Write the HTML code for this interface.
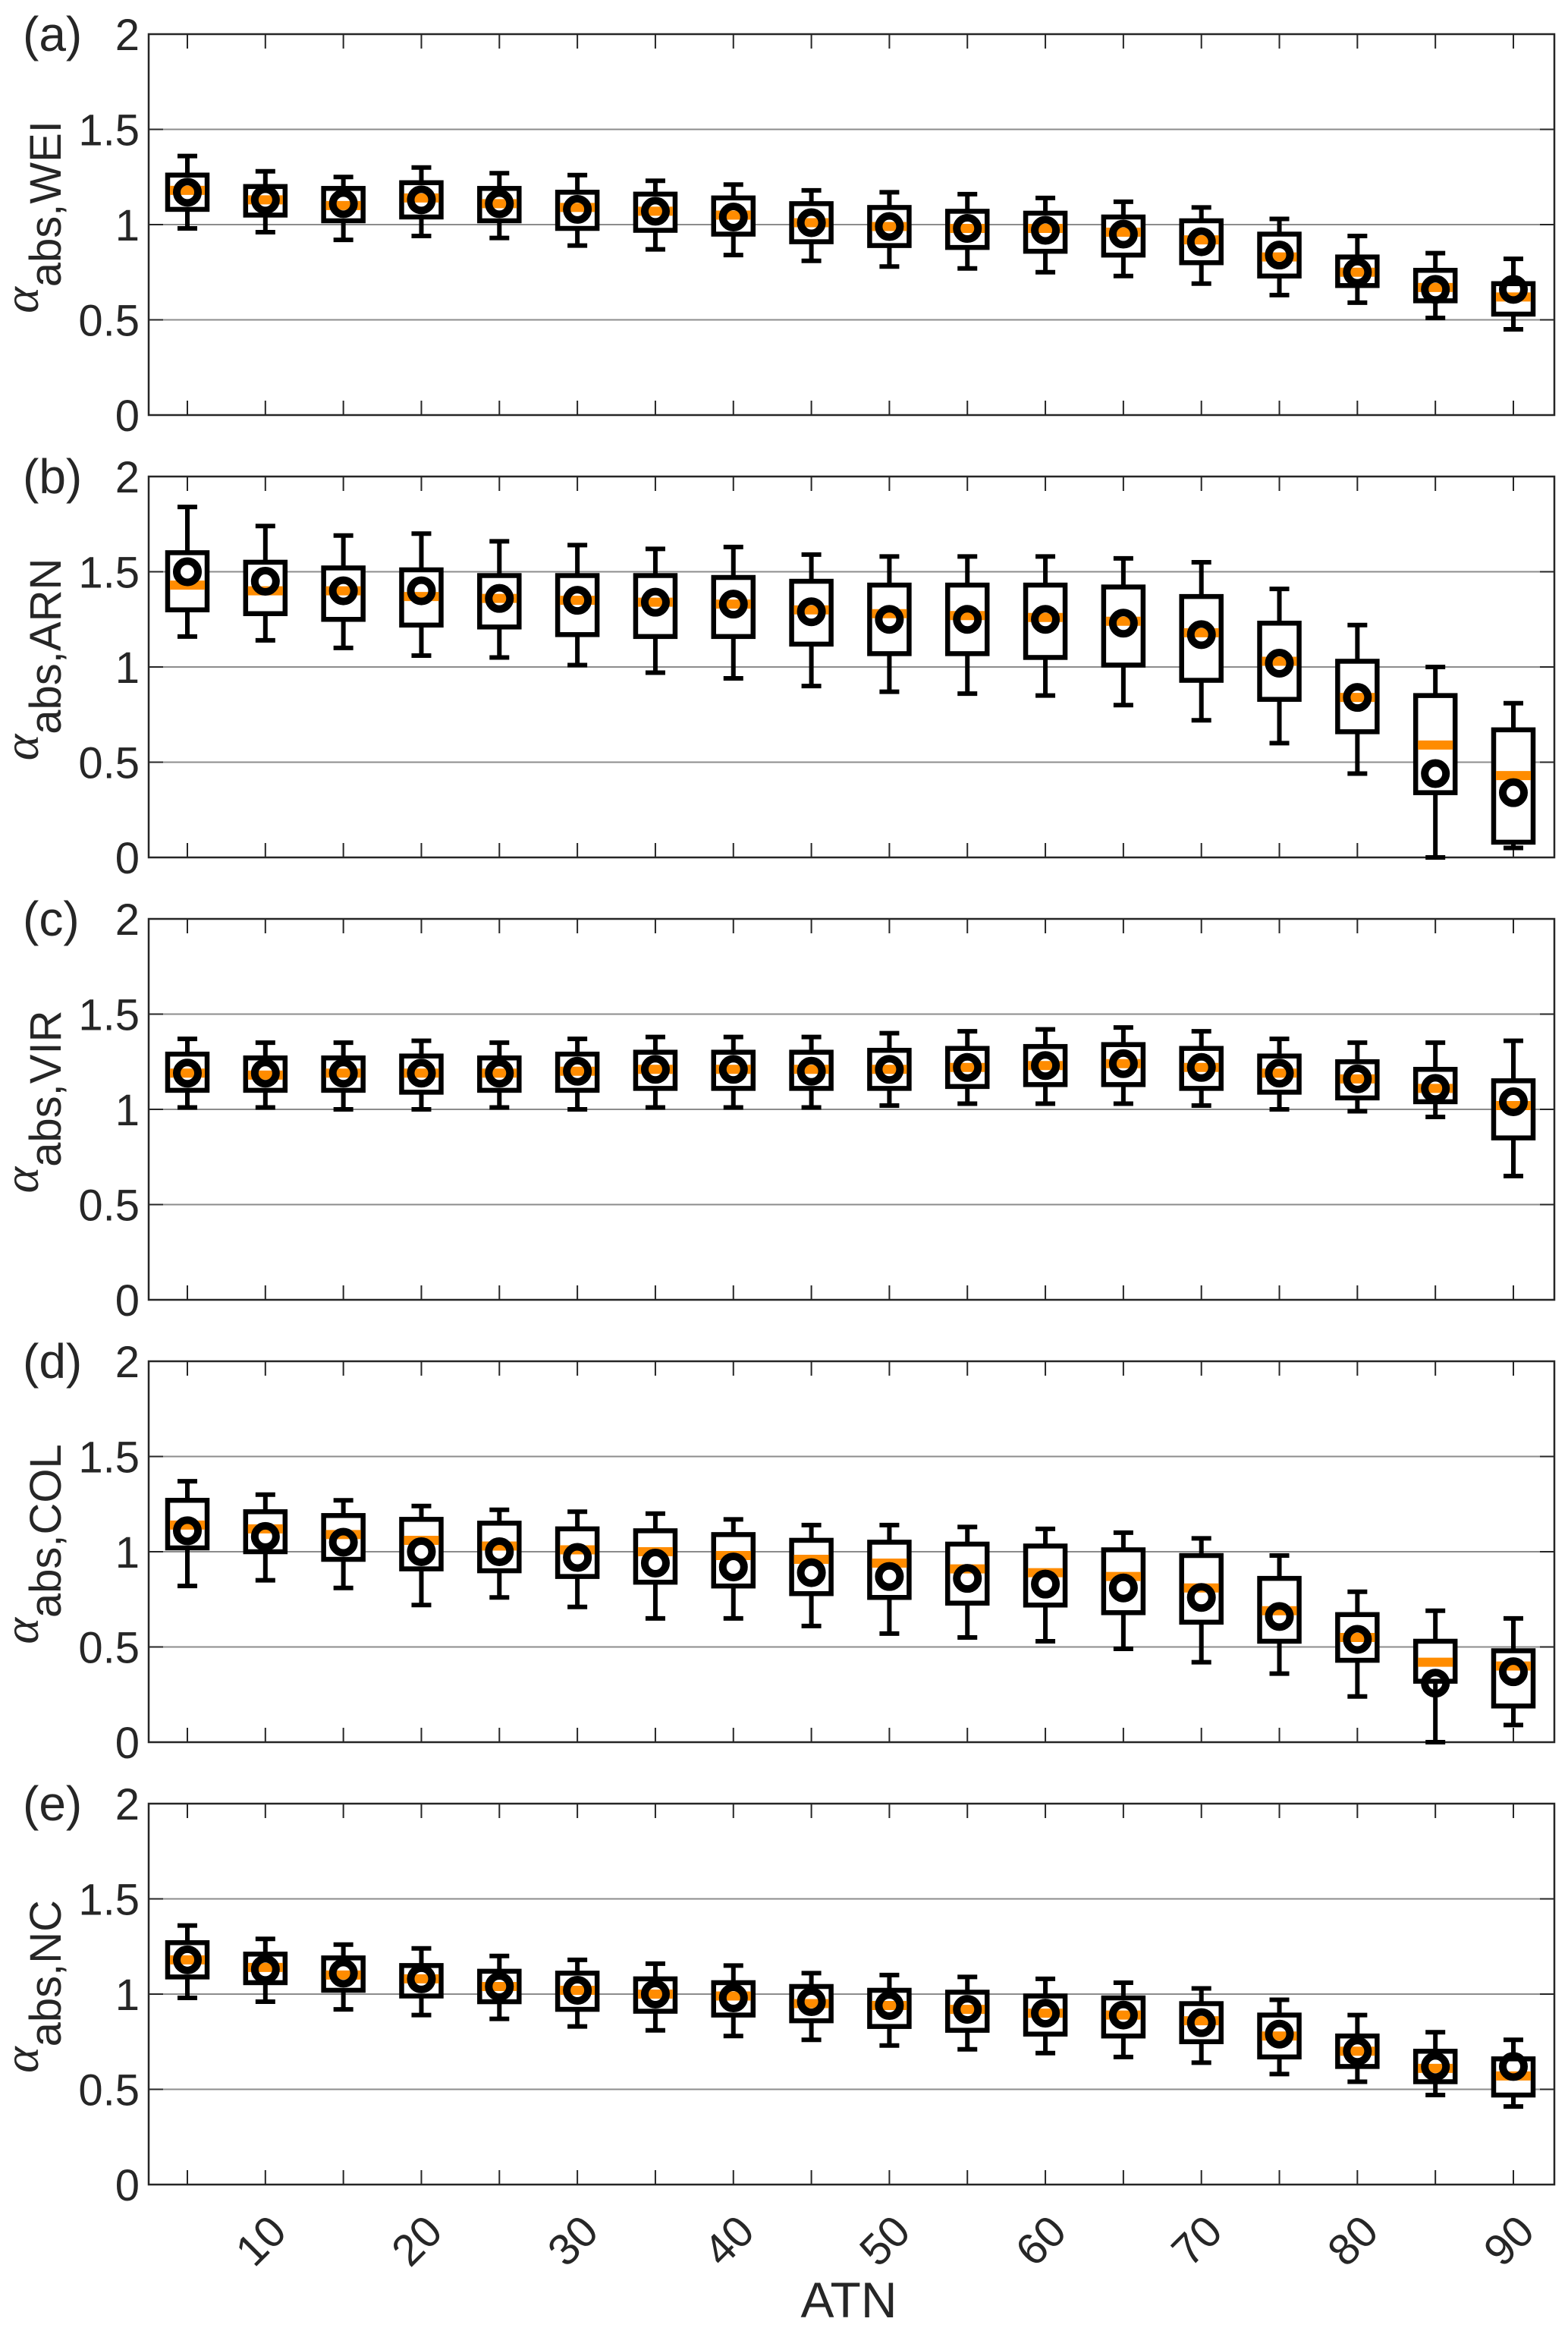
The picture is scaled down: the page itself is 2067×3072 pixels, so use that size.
<!DOCTYPE html>
<html><head><meta charset="utf-8">
<style>
html,body{margin:0;padding:0;background:#fff;}
svg{display:block;}
text{font-family:"Liberation Sans",sans-serif;fill:#262626;}
</style></head>
<body>
<svg id="chart" width="2067" height="3072" viewBox="0 0 2067 3072" xmlns="http://www.w3.org/2000/svg"></svg>
<script>
// Categories (ATN bins)
const atn = [5,10,15,20,25,30,35,40,45,50,55,60,65,70,75,80,85,90];
const xTickLabels = [10,20,30,40,50,60,70,80,90];
const yTickLabels = [0,0.5,1,1.5,2];
const panelLetters = ["(a)","(b)","(c)","(d)","(e)"];
const panelSubs = ["abs,WEI","abs,ARN","abs,VIR","abs,COL","abs,NC"];

// Each panel: whisker low, q1, median, q3, whisker high, mean
const weiLo  = [.98,.96,.92,.94,.93,.89,.87,.84,.81,.78,.77,.75,.73,.69,.63,.59,.51,.45];
const weiQ1  = [1.08,1.05,1.02,1.04,1.02,.98,.97,.95,.91,.89,.88,.86,.84,.80,.73,.68,.60,.53];
const weiMed = [1.18,1.13,1.10,1.14,1.11,1.09,1.07,1.05,1.01,.99,.98,.98,.96,.92,.83,.75,.67,.62];
const weiQ3  = [1.26,1.20,1.19,1.22,1.19,1.17,1.16,1.14,1.11,1.09,1.07,1.06,1.04,1.02,.95,.83,.76,.69];
const weiHi  = [1.36,1.28,1.25,1.30,1.27,1.26,1.23,1.21,1.18,1.17,1.16,1.14,1.12,1.09,1.03,.94,.85,.82];
const weiMean= [1.17,1.13,1.11,1.13,1.11,1.08,1.07,1.04,1.01,.99,.98,.97,.95,.91,.84,.75,.66,.66];

const arnLo  = [1.16,1.14,1.10,1.06,1.05,1.01,.97,.94,.90,.87,.86,.85,.80,.72,.60,.44,0,.05];
const arnQ1  = [1.30,1.28,1.25,1.22,1.21,1.17,1.16,1.16,1.12,1.07,1.07,1.05,1.01,.93,.83,.66,.34,.08];
const arnMed = [1.43,1.40,1.40,1.37,1.36,1.35,1.34,1.33,1.30,1.28,1.27,1.26,1.24,1.18,1.03,.84,.59,.43];
const arnQ3  = [1.60,1.55,1.52,1.51,1.48,1.48,1.48,1.47,1.45,1.43,1.43,1.43,1.42,1.37,1.23,1.03,.85,.67];
const arnHi  = [1.84,1.74,1.69,1.70,1.66,1.64,1.62,1.63,1.59,1.58,1.58,1.58,1.57,1.55,1.41,1.22,1.00,.81];
const arnMean= [1.50,1.45,1.40,1.40,1.36,1.35,1.34,1.33,1.29,1.25,1.25,1.25,1.23,1.17,1.02,.84,.44,.34];

const virLo  = [1.01,1.01,1.00,1.00,1.01,1.00,1.01,1.01,1.01,1.02,1.03,1.03,1.03,1.02,1.00,.99,.96,.65];
const virQ1  = [1.10,1.10,1.10,1.09,1.10,1.10,1.11,1.11,1.11,1.11,1.12,1.13,1.13,1.11,1.09,1.06,1.04,.85];
const virMed = [1.19,1.18,1.19,1.19,1.19,1.20,1.21,1.21,1.21,1.21,1.22,1.23,1.24,1.22,1.19,1.16,1.11,1.02];
const virQ3  = [1.29,1.27,1.27,1.28,1.27,1.29,1.30,1.30,1.30,1.31,1.32,1.33,1.34,1.32,1.28,1.25,1.21,1.15];
const virHi  = [1.37,1.35,1.35,1.36,1.35,1.37,1.38,1.38,1.38,1.40,1.41,1.42,1.43,1.41,1.37,1.35,1.35,1.36];
const virMean= [1.19,1.19,1.19,1.19,1.19,1.20,1.21,1.21,1.20,1.21,1.22,1.23,1.24,1.22,1.19,1.16,1.11,1.04];

const colLo  = [.82,.85,.81,.72,.76,.71,.65,.65,.61,.57,.55,.53,.49,.42,.36,.24,0,.09];
const colQ1  = [1.02,1.00,.96,.91,.90,.87,.84,.82,.78,.76,.73,.72,.68,.63,.53,.43,.32,.19];
const colMed = [1.14,1.12,1.09,1.06,1.03,1.01,1.00,.98,.96,.94,.91,.89,.87,.81,.69,.55,.42,.40];
const colQ3  = [1.27,1.21,1.19,1.17,1.15,1.12,1.11,1.09,1.06,1.05,1.04,1.03,1.01,.98,.86,.67,.53,.48];
const colHi  = [1.37,1.30,1.27,1.24,1.22,1.21,1.20,1.17,1.14,1.14,1.13,1.12,1.10,1.07,.98,.79,.69,.65];
const colMean= [1.11,1.08,1.05,1.00,1.00,.97,.94,.92,.89,.87,.86,.83,.81,.76,.66,.54,.31,.37];

const ncLo   = [.98,.96,.92,.89,.87,.83,.81,.78,.76,.73,.71,.69,.67,.64,.58,.54,.47,.41];
const ncQ1   = [1.09,1.06,1.02,.99,.96,.92,.91,.89,.86,.83,.81,.79,.78,.75,.67,.62,.54,.47];
const ncMed  = [1.18,1.14,1.10,1.08,1.04,1.02,1.00,.99,.95,.94,.92,.90,.89,.86,.78,.70,.61,.57];
const ncQ3   = [1.27,1.21,1.19,1.15,1.12,1.11,1.08,1.06,1.04,1.02,1.01,.99,.98,.95,.89,.78,.70,.66];
const ncHi   = [1.36,1.29,1.26,1.24,1.20,1.18,1.16,1.15,1.11,1.10,1.09,1.08,1.06,1.03,.97,.89,.80,.76];
const ncMean = [1.18,1.13,1.11,1.08,1.04,1.02,1.00,.98,.96,.94,.92,.90,.89,.85,.79,.70,.62,.62];

const panels = [
  [weiLo,weiQ1,weiMed,weiQ3,weiHi,weiMean],
  [arnLo,arnQ1,arnMed,arnQ3,arnHi,arnMean],
  [virLo,virQ1,virMed,virQ3,virHi,virMean],
  [colLo,colQ1,colMed,colQ3,colHi,colMean],
  [ncLo,ncQ1,ncMed,ncQ3,ncHi,ncMean]
];

const NS = "http://www.w3.org/2000/svg";
const svg = document.getElementById("chart");
const L = 196, R = 2049, H = 502, TOP0 = 45, STEP = 583;
const xScale = v => 247 + (v - 5) * (1995 - 247) / 85;
function mk(tag, attrs, parent) {
  const e = document.createElementNS(NS, tag);
  for (const k in attrs) e.setAttribute(k, attrs[k]);
  (parent || svg).appendChild(e);
  return e;
}

panels.forEach((p, pi) => {
  const top = TOP0 + pi * STEP;
  const yScale = v => top + H - v / 2 * H;
  const g = mk("g", {});
  
  

  [0.5, 1, 1.5].forEach(v => {
    const gl = mk("line", {x1: L, x2: R, y1: yScale(v), y2: yScale(v), stroke: "#8c8c8c", "stroke-width": 2}, g);
    
    
  });
  yTickLabels.forEach(v => {
    const y = yScale(v);
    mk("line", {x1: L, x2: L + 19, y1: y, y2: y, stroke: "#262626", "stroke-width": 2}, g);
    mk("line", {x1: R, x2: R - 19, y1: y, y2: y, stroke: "#262626", "stroke-width": 2}, g);
    const t = mk("text", {x: 184, y: y + 21, "text-anchor": "end", "font-size": 58}, g);
    t.textContent = String(v);
    
    
  });
  atn.forEach(v => {
    const x = xScale(v);
    mk("line", {x1: x, x2: x, y1: top + H, y2: top + H - 19, stroke: "#262626", "stroke-width": 2}, g);
    mk("line", {x1: x, x2: x, y1: top, y2: top + 19, stroke: "#262626", "stroke-width": 2}, g);
  });
  const fr = mk("rect", {x: L, y: top, width: R - L, height: H, fill: "none", stroke: "#262626", "stroke-width": 2.5}, g);
  
  

  const pl = mk("text", {x: 30, y: top + 22, "font-size": 64}, g);
  pl.textContent = panelLetters[pi];
  
  

  const cy = top + H / 2 - 10;
  const yt = mk("text", {transform: "translate(50," + cy + ") rotate(-90)", "text-anchor": "middle"}, g);
  
  
  const a = mk("tspan", {"font-family": "Liberation Serif, serif", "font-style": "italic", "font-size": 66}, yt);
  a.textContent = "α";
  const s = mk("tspan", {dy: 30, "font-size": 58}, yt);
  s.textContent = panelSubs[pi];

  const [lo, q1, med, q3, hi, mean] = p;
  atn.forEach((v, i) => {
    const x = xScale(v);
    const bg = mk("g", {}, g);
    
    
    mk("line", {x1: x, x2: x, y1: yScale(hi[i]), y2: yScale(q3[i]), stroke: "#000", "stroke-width": 6}, bg);
    mk("line", {x1: x, x2: x, y1: yScale(q1[i]), y2: yScale(lo[i]), stroke: "#000", "stroke-width": 6}, bg);
    mk("line", {x1: x - 13, x2: x + 13, y1: yScale(hi[i]), y2: yScale(hi[i]), stroke: "#000", "stroke-width": 6}, bg);
    mk("line", {x1: x - 13, x2: x + 13, y1: yScale(lo[i]), y2: yScale(lo[i]), stroke: "#000", "stroke-width": 6}, bg);
    mk("rect", {x: x - 26, y: yScale(q3[i]), width: 52, height: yScale(q1[i]) - yScale(q3[i]), fill: "#fff", stroke: "#000", "stroke-width": 6.5}, bg);
    mk("line", {x1: x - 23, x2: x + 23, y1: yScale(med[i]), y2: yScale(med[i]), stroke: "#ff8c00", "stroke-width": 12}, bg);
    mk("circle", {cx: x, cy: yScale(mean[i]), r: 14, fill: "none", stroke: "#000", "stroke-width": 10}, bg);
  });
});

const lastTop = TOP0 + 4 * STEP;
xTickLabels.forEach(v => {
  const x = xScale(v);
  const t = mk("text", {transform: "translate(" + (x + 8) + "," + (lastTop + H + 88) + ") rotate(-45)", "text-anchor": "middle", "font-size": 58});
  t.textContent = String(v);
  
  
});
const xt = mk("text", {x: 1119, y: 3054, "text-anchor": "middle", "font-size": 66});
xt.textContent = "ATN";


</script>
</body></html>
